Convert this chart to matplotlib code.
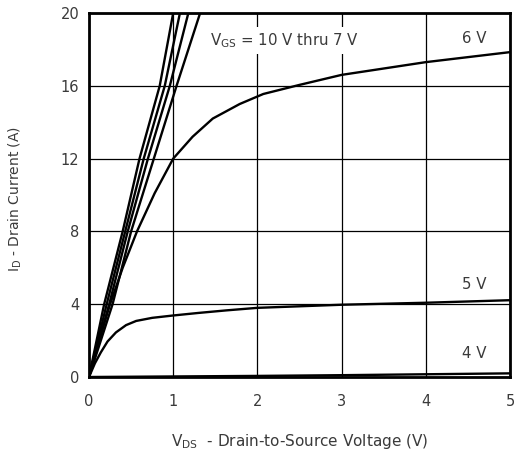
import numpy as np
import matplotlib
matplotlib.use("Agg")
import matplotlib.pyplot as plt

plt.rcParams['font.family'] = ['DejaVu Sans']
plt.rcParams['mathtext.fontset'] = 'dejavusans'

# =========================
# 読み取ったデータ
# =========================
vds_10 = [0, 0.18, 0.40, 0.60, 0.84, 1.00]
id_10 = [0, 4, 8, 12, 16, 20]
vds_9 = [0, 0.21, 0.43, 0.65, 0.90, 1.08]
id_9 = [0, 4, 8, 12, 16, 20]
vds_8 = [0, 0.24, 0.46, 0.70, 0.96, 1.18]
id_8 = [0, 4, 8, 12, 16, 20]
vds_7 = [0, 0.28, 0.50, 0.77, 1.04, 1.32]
id_7 = [0, 4, 8, 12, 16, 20]

vds_6 = [0, 0.12, 0.25, 0.40, 0.57, 0.78, 1.00, 1.23, 1.47, 1.79, 2.07, 2.5, 3.0, 4.0, 5.0]
id_6 = [0, 2.0, 4.0, 6.0, 8.0, 10.1, 12.0, 13.2, 14.2, 15.0, 15.55, 16.05, 16.6, 17.3, 17.85]

vds_5 = [0, 0.07, 0.14, 0.22, 0.32, 0.44, 0.56, 0.75, 1.0, 1.3, 1.63, 2.0, 3.0, 4.0, 5.0]
id_5 = [0, 0.75, 1.35, 1.95, 2.45, 2.85, 3.08, 3.25, 3.38, 3.52, 3.66, 3.80, 3.97, 4.08, 4.22]

vds_4 = [0, 1, 2, 3, 4, 5]
id_4 = [0, 0.03, 0.06, 0.10, 0.15, 0.20]

x_ticks = [0, 1, 2, 3, 4, 5]
y_ticks = [0, 4, 8, 12, 16, 20]

# =========================
# プロット
# =========================
fig = plt.figure(figsize=(5.14, 4.55), dpi=100)
ax = fig.add_axes([89 / 514, 78 / 455, 421 / 514, 364 / 455])

for vx, iy in [(vds_10, id_10), (vds_9, id_9), (vds_8, id_8), (vds_7, id_7),
               (vds_6, id_6), (vds_5, id_5), (vds_4, id_4)]:
    ax.plot(vx, iy, color='black', lw=1.7, zorder=3, solid_joinstyle='round')

ax.set_xlim(0, 5)
ax.set_ylim(0, 20)
ax.set_xticks(x_ticks)
ax.set_yticks(y_ticks)
ax.grid(True, color='black', lw=0.9)
ax.set_axisbelow(True)
for s in ax.spines.values():
    s.set_linewidth(2.0)
ax.tick_params(length=0, labelsize=10.5, colors='#3a3a3a')
ax.tick_params(axis='x', pad=12)
ax.tick_params(axis='y', pad=7)

ax.set_xlabel(r'V$_{\mathregular{DS}}$  - Drain-to-Source Voltage (V)',
              fontsize=11, color='#3a3a3a')
ax.set_ylabel(r'I$_{\mathregular{D}}$ - Drain Current (A)',
              fontsize=10, color='#3a3a3a')
ax.xaxis.set_label_coords(0.50, -0.15)
ax.yaxis.set_label_coords(-0.155, 0.49)

txt = dict(fontsize=10.8, color='#3a3a3a', zorder=5)
ax.text(1.44, 18.5, r'V$_{\mathregular{GS}}$ = 10 V thru 7 V', va='center',
        bbox=dict(facecolor='white', edgecolor='none', pad=3), **txt)
ax.text(4.43, 18.6, '6 V', va='center', **txt)
ax.text(4.43, 5.1, '5 V', va='center', **txt)
ax.text(4.43, 1.3, '4 V', va='center', **txt)

fig.savefig("out.png", dpi=100)
